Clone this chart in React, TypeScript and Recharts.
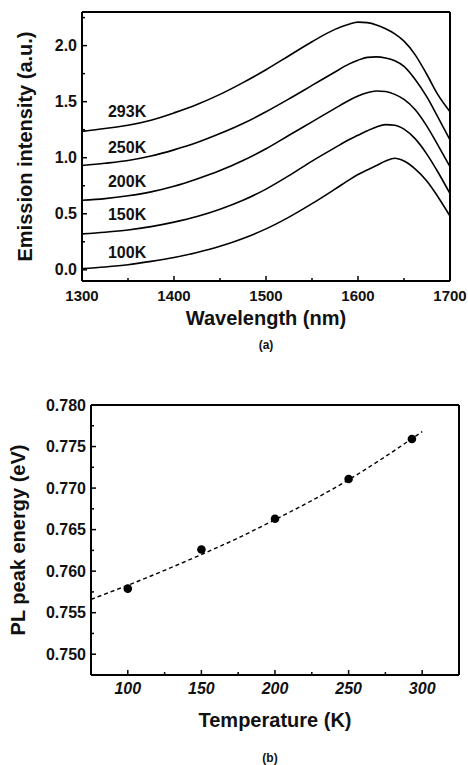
import { LineChart, Line, XAxis, YAxis, ReferenceDot, Label, ComposedChart, Scatter } from "recharts";

// (a) emission spectra, stacked by temperature
const wavelengths = [1300, 1325, 1350, 1375, 1400, 1425, 1450, 1475, 1500, 1525, 1550, 1575, 1590, 1600, 1610, 1620, 1630, 1640, 1650, 1662, 1675, 1687, 1700];
const spec100K = [0.01, 0.025, 0.045, 0.075, 0.11, 0.155, 0.21, 0.28, 0.365, 0.47, 0.59, 0.72, 0.8, 0.85, 0.89, 0.93, 0.97, 0.995, 0.97, 0.9, 0.79, 0.65, 0.48];
const spec150K = [0.32, 0.335, 0.355, 0.385, 0.425, 0.475, 0.54, 0.62, 0.72, 0.84, 0.97, 1.09, 1.16, 1.2, 1.24, 1.275, 1.295, 1.29, 1.255, 1.17, 1.03, 0.87, 0.68];
const spec200K = [0.62, 0.635, 0.66, 0.695, 0.745, 0.81, 0.885, 0.975, 1.08, 1.2, 1.32, 1.44, 1.51, 1.55, 1.58, 1.595, 1.59, 1.565, 1.52, 1.43, 1.28, 1.11, 0.92];
const spec250K = [0.93, 0.95, 0.975, 1.015, 1.07, 1.135, 1.215, 1.305, 1.41, 1.525, 1.645, 1.765, 1.835, 1.87, 1.895, 1.9, 1.89, 1.865, 1.815, 1.7, 1.54, 1.36, 1.16];
const spec293K = [1.235, 1.26, 1.29, 1.335, 1.4, 1.475, 1.565, 1.67, 1.785, 1.91, 2.035, 2.145, 2.19, 2.21, 2.205, 2.185, 2.15, 2.105, 2.04, 1.92, 1.74, 1.56, 1.41];
const spectra = [spec100K, spec150K, spec200K, spec250K, spec293K];
const tempLabels = ["100K", "150K", "200K", "250K", "293K"];
const tempLabelX = 1349;
const tempLabelY = [0.155, 0.494, 0.792, 1.092, 1.413];

const specXTicks = [1300, 1350, 1400, 1450, 1500, 1550, 1600, 1650, 1700];
const specXMajor = [1300, 1400, 1500, 1600, 1700];
const specYTicks = [0, 0.25, 0.5, 0.75, 1.0, 1.25, 1.5, 1.75, 2.0, 2.25];
const specYMajor = [0, 0.5, 1.0, 1.5, 2.0];

// (b) PL peak energy vs temperature, with fitted curve
const peakT = [100, 150, 200, 250, 293];
const peakE = [0.7579, 0.7626, 0.7663, 0.7711, 0.7759];
const fitT = [75, 100, 125, 150, 175, 200, 225, 250, 275, 300];
const fitE = [0.7566, 0.7583, 0.7601, 0.762, 0.764, 0.7662, 0.7685, 0.771, 0.7738, 0.7768];

const tempXTicks = [75, 100, 125, 150, 175, 200, 225, 250, 275, 300, 325];
const tempXMajor = [100, 150, 200, 250, 300];
const energyYTicks = [0.7475, 0.75, 0.7525, 0.755, 0.7575, 0.76, 0.7625, 0.765, 0.7675, 0.77, 0.7725, 0.775, 0.7775, 0.78];
const energyYMajor = [0.75, 0.755, 0.76, 0.765, 0.77, 0.775, 0.78];

const INK = "#000";
const FONT = "'Liberation Sans', Arial, sans-serif";

type Side = "bottom" | "top" | "left" | "right";

// inward-pointing ticks, labels only on the major ones
function makeTick(side: Side, gap: number, majors: number[], fmt?: (v: number) => string, fontSize = 15, italic = false) {
  return (props: any) => {
    const { x, y, payload } = props;
    const v = payload.value as number;
    const major = majors.some((m) => Math.abs(m - v) < 1e-9);
    const len = major ? 5 : 3;
    let line = null;
    let text = null;
    if (side === "bottom") {
      const ay = y - gap;
      line = <line x1={x} y1={ay} x2={x} y2={ay - len} stroke={INK} strokeWidth={1.5} />;
      if (major && fmt)
        text = (
          <text x={x} y={y} dy="0.71em" textAnchor="middle" fontSize={fontSize} fontWeight="bold" fontStyle={italic ? "italic" : "normal"} fontFamily={FONT} fill="#111">
            {fmt(v)}
          </text>
        );
    } else if (side === "left") {
      const ax = x + gap;
      line = <line x1={ax} y1={y} x2={ax + len} y2={y} stroke={INK} strokeWidth={1.5} />;
      if (major && fmt)
        text = (
          <text x={x} y={y} dy="0.355em" textAnchor="end" fontSize={fontSize} fontWeight="bold" fontFamily={FONT} fill="#111">
            {fmt(v)}
          </text>
        );
    } else if (side === "top") {
      const ay = y + gap;
      line = <line x1={x} y1={ay} x2={x} y2={ay + len} stroke={INK} strokeWidth={1.5} />;
    } else {
      const ax = x - gap;
      line = <line x1={ax} y1={y} x2={ax - len} y2={y} stroke={INK} strokeWidth={1.5} />;
    }
    return (
      <g>
        {line}
        {text}
      </g>
    );
  };
}

function xTitle(text: string, dx: number, dy: number, size: number) {
  return ({ viewBox }: any) => (
    <text x={viewBox.x + viewBox.width / 2 + dx} y={viewBox.y + dy} textAnchor="middle" dominantBaseline="central" fontSize={size} fontWeight="bold" fontFamily={FONT} fill="#111">
      {text}
    </text>
  );
}

function yTitle(text: string, dx: number, size: number) {
  return ({ viewBox }: any) => {
    const cx = viewBox.x + dx;
    const cy = viewBox.y + viewBox.height / 2;
    return (
      <text x={cx} y={cy} transform={`rotate(-90 ${cx} ${cy})`} textAnchor="middle" dominantBaseline="central" fontSize={size} fontWeight="bold" fontFamily={FONT} fill="#111">
        {text}
      </text>
    );
  };
}

const axisLine = { stroke: INK, strokeWidth: 2 };

function SpectraChart() {
  const specDomain: [number, number] = [1300, 1700];
  const intDomain: [number, number] = [-0.1, 2.3];
  return (
    <LineChart width={468} height={360} margin={{ top: 11, right: 17, left: 0, bottom: 0 }}>
      <XAxis
        type="number"
        dataKey="w"
        domain={specDomain}
        ticks={specXTicks}
        interval={0}
        height={79}
        tickSize={0}
        tickMargin={9}
        axisLine={axisLine}
        tick={makeTick("bottom", 9, specXMajor, (v) => String(v), 15)}
      >
        <Label content={xTitle("Wavelength (nm)", 0, 37, 20)} />
        <Label content={xTitle("(a)", 0, 64, 12)} />
      </XAxis>
      <XAxis xAxisId="top" orientation="top" type="number" dataKey="w" domain={specDomain} ticks={specXTicks} interval={0} height={1} tickSize={0} tickMargin={0} axisLine={axisLine} tick={makeTick("top", 0, specXMajor)} />
      <YAxis
        type="number"
        domain={intDomain}
        ticks={specYTicks}
        interval={0}
        width={82}
        tickSize={0}
        tickMargin={5}
        axisLine={axisLine}
        tick={makeTick("left", 5, specYMajor, (v) => v.toFixed(1), 16)}
      >
        <Label content={yTitle("Emission intensity (a.u.)", 25, 20)} />
      </YAxis>
      <YAxis yAxisId="right" orientation="right" type="number" domain={intDomain} ticks={specYTicks} interval={0} width={1} tickSize={0} tickMargin={0} axisLine={axisLine} tick={makeTick("right", 0, specYMajor)} />
      {spectra.map((s, k) => (
        <Line
          key={tempLabels[k]}
          data={wavelengths.map((w, i) => ({ w, v: s[i] }))}
          dataKey="v"
          type="monotone"
          stroke={INK}
          strokeWidth={1.6}
          dot={false}
          isAnimationActive={false}
        />
      ))}
      {tempLabels.map((t, k) => (
        <ReferenceDot
          key={t}
          x={tempLabelX}
          y={tempLabelY[k]}
          r={0}
          fill="none"
          stroke="none"
          label={{ value: t, position: "center", fontSize: 16, fontWeight: "bold", fontFamily: FONT, fill: "#111" }}
        />
      ))}
    </LineChart>
  );
}

function PeakEnergyChart() {
  const tDomain: [number, number] = [75, 325];
  const eDomain: [number, number] = [0.7475, 0.78];
  const peaks = peakT.map((t, i) => ({ t, e: peakE[i] }));
  const fit = fitT.map((t, i) => ({ t, e: fitE[i] }));
  return (
    <ComposedChart width={468} height={405} margin={{ top: 44, right: 8, left: 0, bottom: 0 }}>
      <XAxis
        type="number"
        dataKey="t"
        domain={tDomain}
        ticks={tempXTicks}
        interval={0}
        height={90}
        tickSize={0}
        tickMargin={8}
        axisLine={axisLine}
        tick={makeTick("bottom", 8, tempXMajor, (v) => String(v), 16, true)}
      >
        <Label content={xTitle("Temperature (K)", 0, 45, 20)} />
        <Label content={xTitle("(b)", -5, 83, 12)} />
      </XAxis>
      <XAxis xAxisId="top" orientation="top" type="number" dataKey="t" domain={tDomain} ticks={tempXTicks} interval={0} height={1} tickSize={0} tickMargin={0} axisLine={axisLine} tick={makeTick("top", 0, tempXMajor)} />
      <YAxis
        type="number"
        domain={eDomain}
        ticks={energyYTicks}
        interval={0}
        width={91}
        tickSize={0}
        tickMargin={5}
        axisLine={axisLine}
        tick={makeTick("left", 5, energyYMajor, (v) => v.toFixed(3), 16)}
      >
        <Label content={yTitle("PL peak energy (eV)", 18, 20)} />
      </YAxis>
      <YAxis yAxisId="right" orientation="right" type="number" domain={eDomain} ticks={energyYTicks} interval={0} width={1} tickSize={0} tickMargin={0} axisLine={axisLine} tick={makeTick("right", 0, energyYMajor)} />
      <Line data={fit} dataKey="e" type="monotone" stroke={INK} strokeWidth={1.4} strokeDasharray="4 3" dot={false} isAnimationActive={false} />
      <Scatter data={peaks} dataKey="e" fill={INK} isAnimationActive={false} shape={(p: any) => <circle cx={p.cx} cy={p.cy} r={4.3} fill={INK} />} />
    </ComposedChart>
  );
}

export default function App() {
  return (
    <div style={{ position: "absolute", left: 0, top: 0, width: 468, height: 765, background: "#fff" }}>
      <div style={{ position: "absolute", left: 0, top: 0 }}>
        <SpectraChart />
      </div>
      <div style={{ position: "absolute", left: 0, top: 360 }}>
        <PeakEnergyChart />
      </div>
    </div>
  );
}
